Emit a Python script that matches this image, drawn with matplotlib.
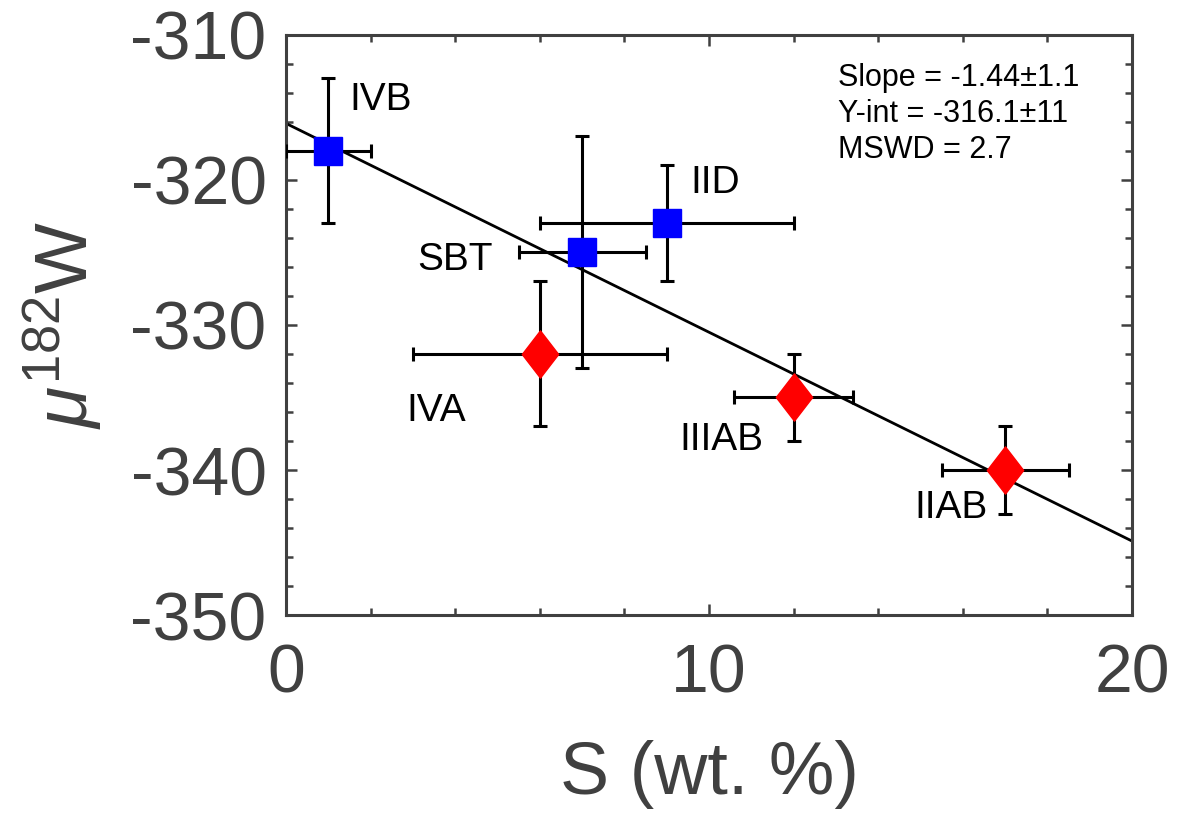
import matplotlib
matplotlib.use("Agg")
import matplotlib.pyplot as plt
from matplotlib.path import Path
import numpy as np

plt.rcParams['font.family'] = ['Liberation Sans', 'DejaVu Sans']
plt.rcParams['mathtext.fontset'] = 'custom'
plt.rcParams['mathtext.rm'] = 'Liberation Sans'
plt.rcParams['mathtext.it'] = 'Liberation Sans:italic'
plt.rcParams['axes.unicode_minus'] = False

# -------- DATA --------
groups = ["IVB", "SBT", "IID", "IVA", "IIIAB", "IIAB"]
s_wt = [1, 7, 9, 6, 12, 17]
s_err = [1, 1.5, 3, 3, 1.4, 1.5]
mu_w = [-318, -325, -323, -332, -335, -340]
mu_err = [5, 8, 4, 5, 3, 3]
kind = ["sq", "sq", "sq", "dm", "dm", "dm"]

slope, yint = -1.44, -316.1
stats = ["Slope = -1.44\u00b11.1", "Y-int = -316.1\u00b111", "MSWD = 2.7"]

# label positions (data coords, left edge / vertical centre)
lab_x = [1.5, 3.1, 9.55, 2.85, 9.3, 14.85]
lab_y = [-314.5, -325.5, -320.2, -335.9, -337.9, -342.6]

# MATLAB style diamond
diamond = Path([(0, 1), (0.77, 0), (0, -1), (-0.77, 0), (0, 1)],
               [Path.MOVETO, Path.LINETO, Path.LINETO, Path.LINETO, Path.CLOSEPOLY])

fig = plt.figure(figsize=(11.83, 8.21), dpi=100)
ax = fig.add_axes([0.2418, 0.2509, 0.9569 - 0.2418, 0.9574 - 0.2509])

# fit line
xl = np.array([0, 20])
ax.plot(xl, yint + slope * xl, color="black", lw=2.0, zorder=2)

for i in range(len(groups)):
    ax.errorbar(s_wt[i], mu_w[i], xerr=s_err[i], yerr=mu_err[i], fmt="none",
                ecolor="black", elinewidth=2.2, capsize=5, capthick=2.2, zorder=3)
    if kind[i] == "sq":
        ax.plot(s_wt[i], mu_w[i], marker="s", ms=20, color="blue",
                markeredgecolor="blue", zorder=4)
    else:
        ax.plot(s_wt[i], mu_w[i], marker=diamond, ms=34, color="red",
                markeredgecolor="red", zorder=4)
    ax.text(lab_x[i], lab_y[i], groups[i], fontsize=28, ha="left", va="center")

ax.text(13.05, -311.9, "\n".join(stats), fontsize=22, ha="left", va="top",
        linespacing=1.28)

ax.set_xlim(0, 20)
ax.set_ylim(-350, -310)
ax.set_xticks([0, 10, 20])
ax.set_xticks(np.arange(0, 21, 2), minor=True)
ax.set_yticks(np.arange(-350, -309, 10))
ax.set_yticks(np.arange(-350, -309, 2), minor=True)

dark = "#404040"
for sp in ax.spines.values():
    sp.set_color(dark)
    sp.set_linewidth(2.2)
ax.tick_params(which="both", direction="in", top=True, right=True,
               colors=dark, labelcolor=dark, width=1.8)
ax.tick_params(which="major", length=8, labelsize=49)
ax.tick_params(axis="y", which="major", pad=14)
ax.tick_params(axis="x", which="major", pad=20)
ax.tick_params(which="minor", length=5)

ax.set_xlabel("S (wt. %)", fontsize=53, color=dark, labelpad=24)
ax.set_ylabel(r"$\mathit{\mu}^{182}$W", fontsize=54, color=dark, labelpad=18)

fig.savefig("out.png", dpi=100)
